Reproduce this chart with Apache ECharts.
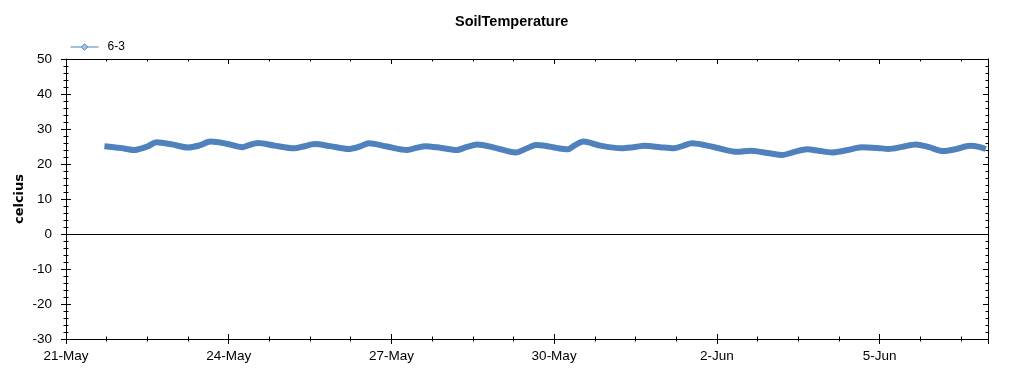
<!DOCTYPE html>
<html>
<head>
<meta charset="utf-8">
<script src="https://cdn.jsdelivr.net/npm/echarts@6/dist/echarts.min.js"></script>
<style>
html,body{margin:0;padding:0;background:#fff;}
#chart{width:1024px;height:375px;}
</style>
</head>
<body>
<div id="chart"></div>
<script>
// Sample times (UTC) and soil temperature readings (celcius)
const times = [
"2013-05-21T17:00","2013-05-22T00:00","2013-05-22T06:00","2013-05-22T12:00","2013-05-22T16:00","2013-05-22T23:00",
"2013-05-23T06:00","2013-05-23T11:00","2013-05-23T16:00","2013-05-23T23:00",
"2013-05-24T06:00","2013-05-24T09:00","2013-05-24T13:00","2013-05-24T20:00",
"2013-05-25T05:00","2013-05-25T09:00","2013-05-25T14:00","2013-05-25T21:00",
"2013-05-26T05:00","2013-05-26T10:00","2013-05-26T14:00","2013-05-26T22:00",
"2013-05-27T07:00","2013-05-27T11:00","2013-05-27T15:00","2013-05-27T22:00",
"2013-05-28T05:00","2013-05-28T09:00","2013-05-28T14:00","2013-05-28T22:00",
"2013-05-29T07:00","2013-05-29T12:00","2013-05-29T16:00","2013-05-29T20:00",
"2013-05-30T01:00","2013-05-30T06:00","2013-05-30T09:00","2013-05-30T13:00","2013-05-30T20:00",
"2013-05-31T06:00","2013-05-31T11:00","2013-05-31T16:00","2013-05-31T23:00",
"2013-06-01T05:00","2013-06-01T09:00","2013-06-01T13:00","2013-06-01T23:00",
"2013-06-02T09:00","2013-06-02T15:00","2013-06-02T21:00",
"2013-06-03T00:00","2013-06-03T05:00","2013-06-03T10:00","2013-06-03T16:00","2013-06-03T21:00",
"2013-06-04T03:00","2013-06-04T10:00","2013-06-04T16:00","2013-06-04T23:00",
"2013-06-05T04:00","2013-06-05T10:00","2013-06-05T16:00","2013-06-05T22:00",
"2013-06-06T04:00","2013-06-06T10:00","2013-06-06T16:00","2013-06-06T20:00","2013-06-06T23:00"
];
const temps = [
25.1,24.6,24.0,25.0,26.2,25.6,
24.7,25.3,26.4,25.8,
24.8,25.4,26.0,25.3,
24.5,25.0,25.7,25.1,
24.3,25.0,25.9,25.0,
24.0,24.6,25.1,24.6,
24.0,24.8,25.6,24.6,
23.3,24.5,25.4,25.2,
24.6,24.2,25.3,26.4,25.3,
24.5,24.8,25.2,24.8,
24.5,25.2,25.9,24.8,
23.5,23.8,23.3,
23.0,22.6,23.4,24.2,23.8,
23.3,24.0,24.8,24.6,
24.3,24.9,25.6,24.8,
23.7,24.3,25.2,24.9,24.3
];
const seriesName = "6-3";
const monthNames = ["Jan","Feb","Mar","Apr","May","Jun","Jul","Aug","Sep","Oct","Nov","Dec"];
const startDate = "2013-05-21T00:00";
const dayCount = 17;
const dayStep = 3;
const yMin = -30, yMax = 50, yStep = 10;

const DAY = 86400000;
const t0 = Date.parse(startDate + "Z");
const data = times.map((t, i) => [(Date.parse(t + "Z") - t0) / DAY, temps[i]]);

function dateLabel(v) {
  const d = new Date(t0 + Math.round(v * DAY));
  return d.getUTCDate() + "-" + monthNames[d.getUTCMonth()];
}

const FONT = "'Liberation Sans', Arial, sans-serif";
const black = { color: "#000", width: 1 };

function xAx(pos, inside, labels, line) {
  return {
    type: "value", min: 0, max: dayCount, interval: dayStep, position: pos,
    axisLine: { show: line, onZero: false, lineStyle: black },
    axisTick: { show: true, inside: inside, length: 5, lineStyle: black },
    minorTick: { show: true, splitNumber: 4, length: 2.5, lineStyle: black },
    axisLabel: { show: labels, formatter: dateLabel, color: "#000", fontSize: 13.5, fontFamily: FONT, margin: 10, showMaxLabel: false },
    splitLine: { show: false }
  };
}
function yAx(pos, inside, labels, line, name) {
  return {
    type: "value", min: yMin, max: yMax, interval: yStep, position: pos,
    name: name || "", nameLocation: "middle", nameGap: 40, nameMoveOverlap: false,
    nameTextStyle: { color: "#000", fontSize: 13, fontWeight: "bold", fontFamily: "'DejaVu Sans', sans-serif" },
    axisLine: { show: line, onZero: false, lineStyle: black },
    axisTick: { show: true, inside: inside, length: 5, lineStyle: black },
    minorTick: { show: true, splitNumber: 5, length: 2.5, lineStyle: black },
    axisLabel: { show: labels, color: "#000", fontSize: 13.5, fontFamily: FONT, margin: 14 },
    splitLine: { show: false }
  };
}

const chart = echarts.init(document.getElementById("chart"), null, { renderer: "canvas" });
chart.setOption({
  animation: false,
  backgroundColor: "#fff",
  title: {
    text: "SoilTemperature", left: 450, top: 9,
    textStyle: { color: "#000", fontSize: 14.5, fontWeight: "bold", fontFamily: FONT }
  },
  legend: {
    left: 70, top: 41, padding: 0, itemWidth: 28, itemHeight: 8, itemGap: 10,
    textStyle: { color: "#000", fontSize: 12, fontFamily: FONT, padding: [0, 0, 0, 4] },
    itemStyle: { color: "#a9c4e0", borderColor: "#4f81bd", borderWidth: 1 },
    lineStyle: { color: "#4f81bd", width: 1 },
    data: [seriesName]
  },
  grid: { left: 66, right: 36, top: 59, bottom: 36, containLabel: false },
  xAxis: [
    xAx("bottom", false, true, true),
    xAx("bottom", true, false, false),
    xAx("top", true, false, true)
  ],
  yAxis: [
    yAx("left", false, true, true, "celcius"),
    yAx("left", true, false, false),
    yAx("right", true, false, true)
  ],
  series: [{
    name: seriesName, type: "line", xAxisIndex: 0, yAxisIndex: 0,
    data: data, smooth: 0.3, symbol: "diamond", symbolSize: 7, showSymbol: false,
    lineStyle: { color: "#4f81bd", width: 6 },
    itemStyle: { color: "#4f81bd" },
    markLine: {
      silent: true, symbol: ["none", "none"], label: { show: false },
      lineStyle: { color: "#000", width: 1, type: "solid" },
      data: [{ yAxis: 0 }]
    }
  }]
});
</script>
</body>
</html>
